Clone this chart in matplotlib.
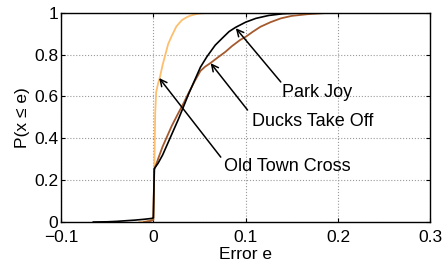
import numpy as np
import matplotlib
matplotlib.use('Agg')
import matplotlib.pyplot as plt

plt.rcParams['font.family'] = ['Liberation Sans', 'DejaVu Sans']

# --- data ---
otc_x = [-0.015, -0.008, -0.004, -0.002, 0.0, 0.001, 0.002, 0.003, 0.005, 0.007,
         0.010, 0.013, 0.016, 0.020, 0.025, 0.031, 0.036, 0.040, 0.045, 0.050,
         0.060, 0.080, 0.30]
otc_y = [0.0, 0.002, 0.006, 0.012, 0.02, 0.25, 0.52, 0.62, 0.66, 0.69,
         0.75, 0.80, 0.85, 0.89, 0.935, 0.965, 0.978, 0.986, 0.992, 0.996,
         1.0, 1.0, 1.0]

pj_x = [-0.065, -0.05, -0.04, -0.03, -0.02, -0.01, -0.002, 0.0, 0.001, 0.005,
        0.010, 0.015, 0.020, 0.027, 0.033, 0.038, 0.045, 0.051, 0.058, 0.067,
        0.075, 0.082, 0.089, 0.100, 0.111, 0.125, 0.140, 0.160, 0.20, 0.30]
pj_y = [0.0, 0.001, 0.003, 0.006, 0.009, 0.013, 0.017, 0.02, 0.255, 0.28,
        0.32, 0.37, 0.42, 0.49, 0.555, 0.61, 0.68, 0.74, 0.79, 0.845,
        0.88, 0.91, 0.93, 0.955, 0.973, 0.987, 0.995, 0.999, 1.0, 1.0]

dto_x = [-0.010, -0.003, 0.0, 0.001, 0.005, 0.010, 0.015, 0.020, 0.027, 0.033,
         0.038, 0.045, 0.051, 0.056, 0.062, 0.070, 0.078, 0.085, 0.094, 0.100,
         0.108, 0.116, 0.127, 0.138, 0.150, 0.167, 0.185, 0.20, 0.30]
dto_y = [0.0, 0.005, 0.01, 0.25, 0.30, 0.36, 0.41, 0.46, 0.52, 0.57,
         0.615, 0.675, 0.722, 0.742, 0.760, 0.787, 0.813, 0.84, 0.87, 0.885,
         0.91, 0.933, 0.955, 0.973, 0.985, 0.993, 0.998, 1.0, 1.0]

xticks = [-0.1, 0, 0.1, 0.2, 0.3]
xtick_labels = ['\u22120.1', '0', '0.1', '0.2', '0.3']
yticks = [0, 0.2, 0.4, 0.6, 0.8, 1]
ytick_labels = ['0', '0.2', '0.4', '0.6', '0.8', '1']

fig = plt.figure(figsize=(4.44, 2.69), dpi=100)
ax = fig.add_axes([0.1374, 0.1747, 0.832, 0.778])

ax.plot(otc_x, otc_y, color='#FDBE6E', lw=1.3)
ax.plot(dto_x, dto_y, color='#A45A2E', lw=1.3)
ax.plot(pj_x, pj_y, color='black', lw=1.2)

ax.set_xlim(-0.1, 0.3)
ax.set_ylim(0, 1)
ax.set_xticks(xticks)
ax.set_xticklabels(xtick_labels)
ax.set_yticks(yticks)
ax.set_yticklabels(ytick_labels)
ax.tick_params(direction='in', top=True, right=True, labelsize=12.5, length=3, width=0.8)
ax.tick_params(axis='x', pad=6)
ax.tick_params(axis='y', pad=2)
ax.grid(True, linestyle=':', color='#9a9a9a', lw=0.8)
for s in ax.spines.values():
    s.set_linewidth(1.0)

ax.set_xlabel('Error e', fontsize=12.5, labelpad=1)
ax.set_ylabel('P(x \u2264 e)', fontsize=12.5, labelpad=3)

arrow = dict(arrowstyle='->', color='black', lw=1.1, shrinkA=0, shrinkB=0,
             mutation_scale=12)
ax.annotate('', xy=(0.0893, 0.926), xytext=(0.138, 0.669), arrowprops=arrow)
ax.annotate('', xy=(0.062, 0.759), xytext=(0.102, 0.535), arrowprops=arrow)
ax.annotate('', xy=(0.0063, 0.688), xytext=(0.073, 0.31), arrowprops=arrow)

ax.text(0.1774, 0.62, 'Park Joy', fontsize=13, ha='center', va='center')
ax.text(0.172, 0.478, 'Ducks Take Off', fontsize=13, ha='center', va='center')
ax.text(0.1447, 0.263, 'Old Town Cross', fontsize=13, ha='center', va='center')

fig.savefig('out.png', dpi=100)
